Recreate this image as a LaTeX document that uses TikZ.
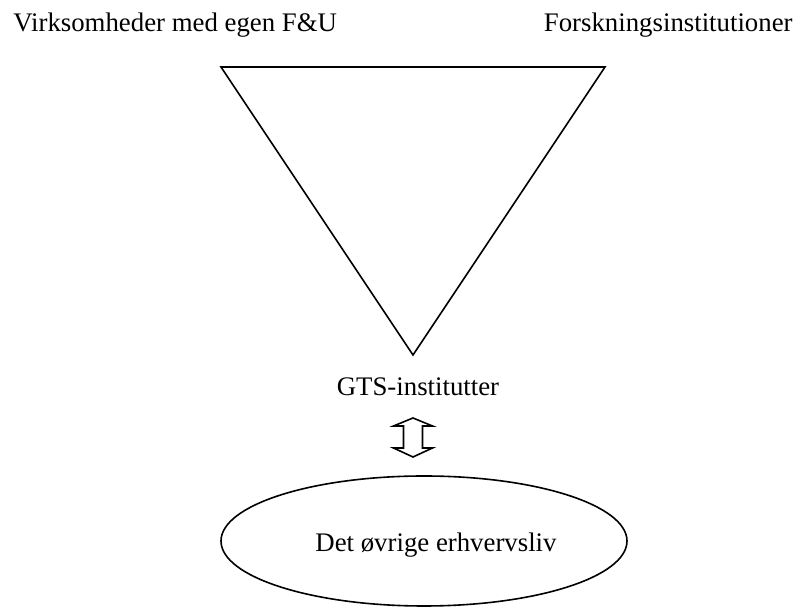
\documentclass[tikz,border=0pt]{standalone}
\usepackage{fontspec}
\setmainfont{Liberation Serif}
\usetikzlibrary{shapes.geometric}

\begin{document}
\begin{tikzpicture}
    [x=0.5pt, y=-0.5pt,
     label/.style = {font=\fontsize{13.4}{15}\selectfont, inner sep=0pt},
     shape line/.style = {draw, line width=0.8pt, line join=miter}]

    \useasboundingbox (0,0) rectangle (800,608);

    \node[label, anchor=base west] (firms) at (13,32) {Virksomheder med egen F\&U};
    \node[label, anchor=base east] (research) at (793,32) {Forskningsinstitutioner};

    \coordinate (tl) at (221,67);
    \coordinate (tr) at (605,67);
    \coordinate (tip) at (413,355);
    \draw[shape line] (tl) -- (tr) -- (tip) -- cycle;

    \node[label, anchor=base] (gts) at (418,396) {GTS-institutter};

    \node[shape line, ellipse, minimum width=203pt, minimum height=65pt]
        (rest) at (424,541) {};
    \node[label, anchor=base] (resttext) at (436,552) {Det øvrige erhvervsliv};

    % double arrow between GTS and the rest
    \coordinate (arr) at (413,437);
    \draw[shape line] (arr) ++(0,-19) -- ++(19.5,8) -- ++(-10,0) -- ++(0,22)
        -- ++(10,0) -- ++(-19.5,9) -- ++(-19.5,-9) -- ++(10,0) -- ++(0,-22)
        -- ++(-10,0) -- cycle;
\end{tikzpicture}
\end{document}
